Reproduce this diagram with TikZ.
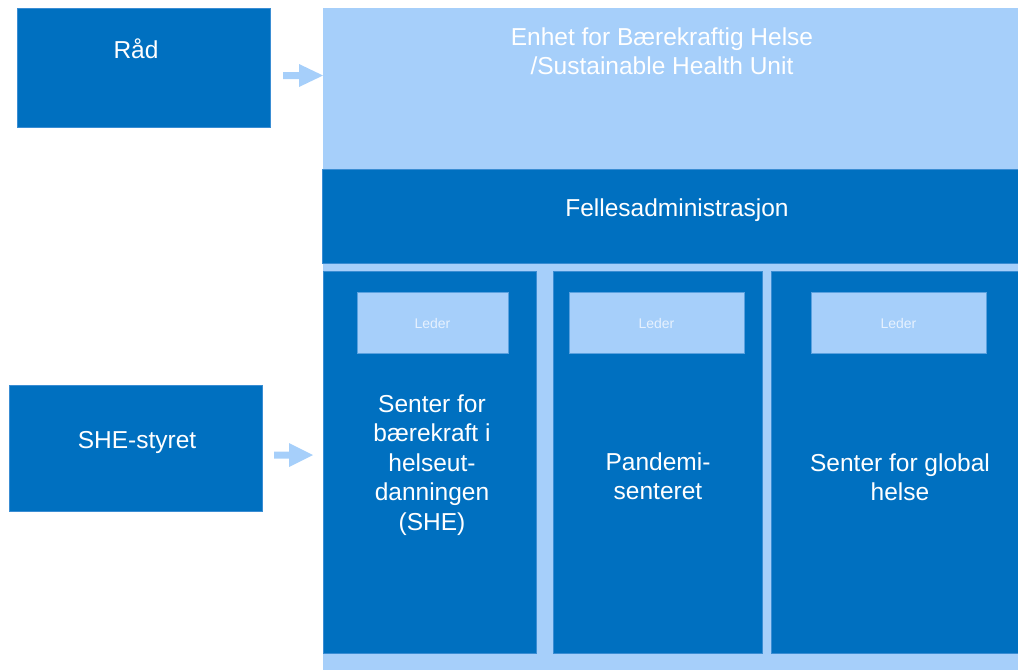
\documentclass[tikz,border=0pt]{standalone}
\usepackage{fontspec}
\setmainfont{Liberation Sans}
\definecolor{dark}{HTML}{0070C0}
\definecolor{light}{HTML}{A6CFFA}
\definecolor{ledertxt}{HTML}{E6F1FE}
\definecolor{edge}{HTML}{3A8DD3}
\begin{document}
\begin{tikzpicture}[x=1pt,y=-1pt,
  box/.style={fill=dark,draw=edge,line width=0.6pt},
  lightbox/.style={fill=light},
  lederbox/.style={fill=light,draw=edge!70!light,line width=0.8pt},
  bigtxt/.style={text=white,inner sep=0pt,anchor=base,font=\fontsize{24.5}{29.5}\selectfont},
  ledtxt/.style={text=ledertxt,inner sep=0pt,font=\fontsize{14}{16}\selectfont},
  blockarrow/.style={fill=light}]
\useasboundingbox (0,0) rectangle (1018,670);
% main unit background
\path[lightbox] (323,8) rectangle (1018,670);
\coordinate (unit) at (323,75.5);
\coordinate (col1w) at (323,455);
% boxes
\path[box] (17,8) rectangle (270,127);
\node[bigtxt] (rad) at (136,58) {Råd};
\path[box] (9,385) rectangle (262,511);
\node[bigtxt] (styret) at (137,448) {SHE-styret};
\node[bigtxt] (title) at (662,45) {\begin{tabular}[t]{@{}c@{}}Enhet for Bærekraftig Helse\\/Sustainable Health Unit\end{tabular}};
\path[box] (322,169) rectangle (1018,263);
\node[bigtxt] (felles) at (677,216) {Fellesadministrasjon};
% columns
\path[box] (323,271) rectangle (536,653);
\path[box] (553,271) rectangle (762,653);
\path[box] (771,271) rectangle (1019,653);
\path[lederbox] (357,292) rectangle (508,353);
\path[lederbox] (569,292) rectangle (744,353);
\path[lederbox] (811,292) rectangle (986,353);
\node[ledtxt] (l1) at (432.5,323.5) {Leder};
\node[ledtxt] (l2) at (656.5,323.5) {Leder};
\node[ledtxt] (l3) at (898.5,323.5) {Leder};
\node[bigtxt] (c1) at (432,412) {\begin{tabular}[t]{@{}c@{}}Senter for\\bærekraft i\\helseut-\\danningen\\(SHE)\end{tabular}};
\node[bigtxt] (c2) at (658,470) {\begin{tabular}[t]{@{}c@{}}Pandemi-\\senteret\end{tabular}};
\node[bigtxt] (c3) at (900,471) {\begin{tabular}[t]{@{}c@{}}Senter for global\\helse\end{tabular}};
% block arrows
\path[blockarrow] (283,72) -- (299,72) -- (299,64) -- (unit) -- (299,87) -- (299,79) -- (283,79) -- cycle;
\path[blockarrow] (274,451.5) -- (289,451.5) -- (289,443) -- (313,455) -- (289,467) -- (289,458.5) -- (274,458.5) -- cycle;
\end{tikzpicture}
\end{document}
